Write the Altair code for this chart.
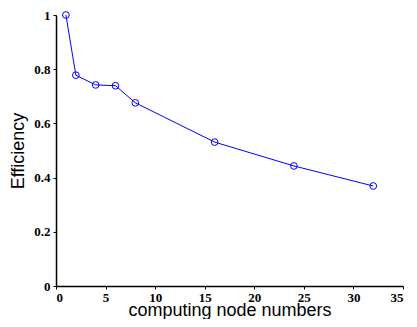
import altair as alt
import pandas as pd

nodes = [1, 2, 4, 6, 8, 16, 24, 32]
efficiency = [1.0, 0.778, 0.742, 0.739, 0.676, 0.531, 0.443, 0.369]

df = pd.DataFrame({"nodes": nodes, "eff": efficiency})

x = alt.X("nodes:Q", scale=alt.Scale(domain=[0, 35], nice=False),
          axis=alt.Axis(title="computing node numbers", values=[0, 5, 10, 15, 20, 25, 30, 35],
                        grid=False, tickSize=3, labelPadding=2, titlePadding=-3))
y = alt.Y("eff:Q", scale=alt.Scale(domain=[0, 1], nice=False),
          axis=alt.Axis(title="Efficiency", values=[0, 0.2, 0.4, 0.6, 0.8, 1],
                        format="~g", grid=False, tickSize=3, labelPadding=3, titlePadding=6))

base = alt.Chart(df).encode(x=x, y=y)
line = base.mark_line(color="#0000ff", strokeWidth=1)
pts = base.mark_point(shape="circle", filled=False, color="#0000ff", size=45, strokeWidth=1, opacity=1)

chart = (line + pts).properties(
    width=347, height=271,
    autosize=alt.AutoSizeParams(type="none"),
    padding={"left": 48, "top": 7, "right": 6, "bottom": 33},
).configure_view(stroke=None).configure_axis(
    domainColor="#000000", domainWidth=1.5, tickColor="#000000",
    labelFont="Liberation Serif", labelFontWeight="bold", labelFontSize=13, labelColor="#000000",
    titleFont="Liberation Sans", titleFontWeight="normal", titleFontSize=18, titleColor="#000000",
)

chart.save("out.html", embed_options={"renderer": "svg", "actions": False})
